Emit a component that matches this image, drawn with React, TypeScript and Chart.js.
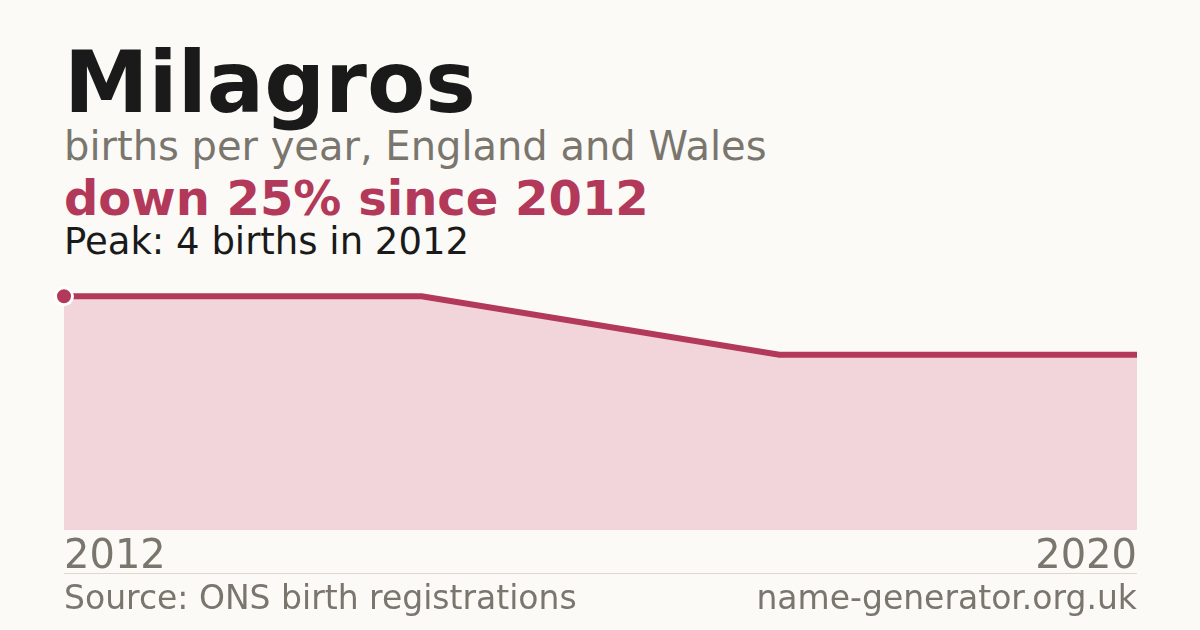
import { useEffect, useRef } from 'react';
import { Chart, registerables } from 'chart.js';

Chart.register(...registerables);

const years = ['2012', '2014', '2017', '2020'];
const births = [4, 4, 3, 3];
const yMax = 4.5;

const BG = '#fbfaf6';
const ACCENT = '#b3395a';
const FILL = '#f2d5da';
const GREY = '#7a766e';
const INK = '#1a1a1a';
const FONT = '"DejaVu Sans", sans-serif';

function BirthsChart() {
  const chartRef = useRef<HTMLCanvasElement>(null);

  useEffect(() => {
    if (!chartRef.current) return;
    const ctx = chartRef.current.getContext('2d');
    if (!ctx) return;

    const chart = new Chart(ctx, {
      type: 'line',
      data: {
        labels: years,
        datasets: [{
          data: births,
          borderColor: ACCENT,
          borderWidth: 6,
          backgroundColor: FILL,
          fill: 'origin',
          tension: 0,
          clip: false,
          pointRadius: births.map((_, i) => (i === 0 ? 8.5 : 0)),
          pointHoverRadius: 0,
          pointBackgroundColor: ACCENT,
          pointBorderColor: '#ffffff',
          pointBorderWidth: 3
        }]
      },
      options: {
        animation: false,
        responsive: true,
        maintainAspectRatio: false,
        layout: { padding: { left: 64, right: 63, top: 17, bottom: 2 } },
        plugins: {
          legend: { display: false },
          tooltip: { enabled: false }
        },
        scales: {
          x: {
            grid: { display: false, drawTicks: false },
            border: { display: false },
            ticks: {
              autoSkip: false,
              maxRotation: 0,
              align: 'inner',
              padding: 4,
              color: GREY,
              font: { family: FONT, size: 40 },
              callback: (_v, i) => (i === 0 || i === years.length - 1 ? years[i] : '')
            }
          },
          y: {
            display: false,
            min: 0,
            max: yMax
          }
        }
      }
    });

    return () => chart.destroy();
  }, []);

  return <canvas ref={chartRef} />;
}

export default function App() {
  const text = (top: number, size: number, color: string, bold = false) => ({
    position: 'absolute' as const,
    left: 64,
    top,
    margin: 0,
    fontFamily: FONT,
    fontSize: size,
    lineHeight: 1,
    fontWeight: bold ? 700 : 400,
    color,
    whiteSpace: 'nowrap' as const
  });

  return (
    <div style={{ position: 'fixed', inset: 0, width: 1200, height: 630, background: BG, overflow: 'hidden' }}>
      <div style={text(40, 85, INK, true)}>Milagros</div>
      <div style={text(126, 40, GREY)}>births per year, England and Wales</div>
      <div style={text(174, 48, ACCENT, true)}>down 25% since 2012</div>
      <div style={text(223, 37, INK)}>Peak: 4 births in 2012</div>

      <div style={{ position: 'absolute', left: 0, top: 250, width: 1200, height: 338 }}>
        <BirthsChart />
      </div>

      <div style={{ position: 'absolute', left: 64, width: 1073, top: 573, height: 1, background: '#dcd8d0' }} />
      <div style={text(581, 33, GREY)}>Source: ONS birth registrations</div>
      <div style={{ ...text(581, 33, GREY), left: 'auto', right: 63 }}>name-generator.org.uk</div>
    </div>
  );
}
